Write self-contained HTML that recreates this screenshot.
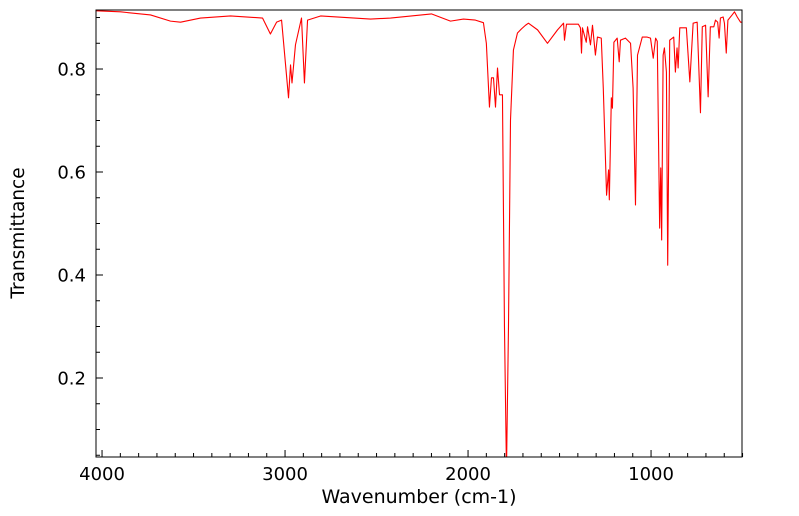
<!DOCTYPE html>
<html><head><meta charset="utf-8"><style>
html,body{margin:0;padding:0;background:#fff;}
svg{display:block;font-family:"DejaVu Sans","Liberation Sans",sans-serif;}
</style></head><body>
<svg id="chart" width="799" height="516">
<g id="ticks"></g>
<g id="labels"></g>
<path id="line" fill="none" stroke="#ff0000" stroke-width="1.1" stroke-linejoin="round" clip-path="url(#clip)"></path>
<clipPath id="clip"><rect x="96" y="10" width="646" height="447"></rect></clipPath>
<rect x="96" y="10" width="646" height="447" fill="none" stroke="#000" stroke-width="1"></rect>
<text x="419" y="503" text-anchor="middle" font-size="19">Wavenumber (cm-1)</text>
<text x="24" y="233" text-anchor="middle" font-size="18.5" transform="rotate(-90 24 233)">Transmittance</text>
</svg>
<script>
const wavenumbers=[4030,3899,3735,3626,3571,3462,3298,3123,3080,3046,3019,2981,2970,2962,2943,2910,2894,2877,2806,2533,2424,2200,2096,2025,1960,1916,1900,1883,1872,1861,1850,1839,1828,1812,1801,1790,1779,1768,1752,1730,1708,1686,1670,1620,1566,1511,1478,1473,1462,1397,1386,1380,1375,1354,1347,1331,1320,1304,1293,1272,1261,1243,1232,1228,1217,1211,1203,1185,1174,1167,1140,1112,1098,1085,1074,1048,1021,1003,988,975,966,953,947,942,934,927,916,909,898,876,867,858,852,843,807,788,770,748,730,720,702,688,676,657,648,636,628,621,606,599,589,580,557,544,529,511,495];
const transmittance=[0.913,0.911,0.905,0.893,0.891,0.899,0.903,0.899,0.868,0.891,0.895,0.744,0.808,0.773,0.847,0.899,0.773,0.895,0.903,0.897,0.899,0.907,0.893,0.897,0.895,0.89,0.85,0.726,0.783,0.783,0.726,0.802,0.75,0.75,0.3,0.02,0.3,0.701,0.837,0.870,0.878,0.885,0.889,0.876,0.850,0.876,0.889,0.856,0.887,0.887,0.880,0.831,0.880,0.852,0.882,0.847,0.885,0.827,0.862,0.860,0.763,0.555,0.604,0.546,0.744,0.724,0.852,0.860,0.814,0.856,0.860,0.850,0.763,0.536,0.827,0.862,0.862,0.860,0.821,0.860,0.854,0.491,0.608,0.468,0.827,0.841,0.794,0.419,0.856,0.862,0.794,0.841,0.802,0.880,0.880,0.775,0.889,0.891,0.715,0.882,0.885,0.746,0.882,0.882,0.895,0.891,0.860,0.899,0.901,0.889,0.831,0.895,0.905,0.911,0.901,0.891,0.891];
const xMajorTicks=[4000,3000,2000,1000];
const yMajorTicks=[0.2,0.4,0.6,0.8];
const X0=96,X1=742,Y0=10,Y1=457;
const WN_LEFT=4033,WN_RIGHT=503,T_TOP=0.9146,T_BOT=0.0466;
function xs(v){return X0+(WN_LEFT-v)/(WN_LEFT-WN_RIGHT)*(X1-X0);}
function ys(v){return Y1-(v-T_BOT)/(T_TOP-T_BOT)*(Y1-Y0);}
const NS="http://www.w3.org/2000/svg";
let d="";
for(let i=0;i<wavenumbers.length;i++){d+=(i?"L":"M")+xs(wavenumbers[i]).toFixed(2)+","+ys(transmittance[i]).toFixed(2);}
document.getElementById("line").setAttribute("d",d);
const tg=document.getElementById("ticks"),lg=document.getElementById("labels");
function line(x1,y1,x2,y2,name){const l=document.createElementNS(NS,"line");
l.setAttribute("x1",x1);l.setAttribute("y1",y1);l.setAttribute("x2",x2);l.setAttribute("y2",y2);
l.setAttribute("stroke","#000");l.setAttribute("stroke-width","1");


tg.appendChild(l);}
for(let w=500;w<=4000;w+=100){const x=xs(w);const major=w%1000===0;line(x,Y1,x,Y1-(major?7:4),major?'x-major-tick':'x-minor-tick');}
for(let k=1;k<=18;k++){const t=k*0.05;const y=ys(t);if(y<Y0||y>Y1)continue;const major=k%4===0;line(X0,y,X0+(major?7:4),y,major?'y-major-tick':'y-minor-tick');}
xMajorTicks.forEach(w=>{const t=document.createElementNS(NS,"text");t.setAttribute("x",xs(w));t.setAttribute("y",480);t.setAttribute("text-anchor","middle");t.setAttribute("font-size","18");t.textContent=String(w);


lg.appendChild(t);});
yMajorTicks.forEach(v=>{const t=document.createElementNS(NS,"text");t.setAttribute("x",86);t.setAttribute("y",ys(v)+6.5);t.setAttribute("text-anchor","end");t.setAttribute("font-size","18");t.textContent=v.toFixed(1);


lg.appendChild(t);});
</script>
</body></html>
